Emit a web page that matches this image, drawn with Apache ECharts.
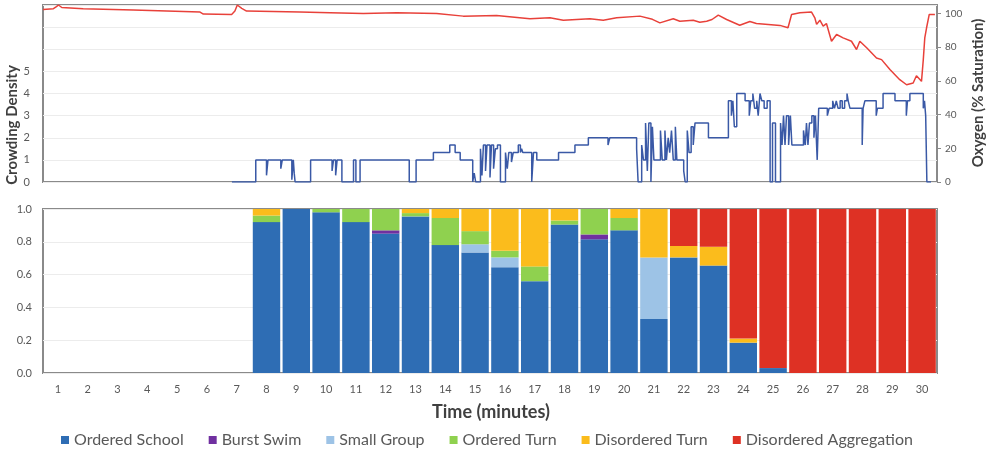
<!DOCTYPE html>
<html>
<head>
<meta charset="utf-8">
<script src="https://cdn.jsdelivr.net/npm/echarts@6/dist/echarts.min.js"></script>
<style>html,body{margin:0;padding:0;background:#fff;}#c{width:989px;height:459px;}</style>
</head>
<body>
<div id="c"></div>
<script>
// ---- Bottom panel: behaviour proportions per minute ----
const minutes = ['1','2','3','4','5','6','7','8','9','10','11','12','13','14','15','16','17','18','19','20','21','22','23','24','25','26','27','28','29','30'];
const orderedSchool = [0,0,0,0,0,0,0,0.92,1.0,0.98,0.92,0.85,0.955,0.78,0.735,0.645,0.56,0.905,0.815,0.87,0.33,0.705,0.655,0.185,0.03,0,0,0,0,0];
const burstSwim     = [0,0,0,0,0,0,0,0,0,0,0,0.02,0,0,0,0,0,0,0.03,0,0,0,0,0,0,0,0,0,0,0];
const smallGroup    = [0,0,0,0,0,0,0,0,0,0,0,0,0,0,0.05,0.06,0,0,0,0,0.375,0,0,0,0,0,0,0,0,0];
const orderedTurn   = [0,0,0,0,0,0,0,0.04,0,0.02,0.08,0.13,0.02,0.165,0.08,0.04,0.09,0.025,0.155,0.075,0,0,0,0,0,0,0,0,0,0];
const disorderedTurn= [0,0,0,0,0,0,0,0.04,0,0,0,0,0.025,0.055,0.135,0.255,0.35,0.07,0,0.055,0.295,0.07,0.115,0.025,0,0,0,0,0,0];
const disorderedAgg = [0,0,0,0,0,0,0,0,0,0,0,0,0,0,0,0,0,0,0,0,0,0.225,0.23,0.79,0.97,1,1,1,1,1];

// ---- Top panel: crowding density (step) ----
const crowdTime = [6.34,7.14,7.50,7.55,7.98,8.03,8.35,8.40,8.43,8.46,8.98,9.70,9.75,9.82,9.87,10.03,10.42,10.50,10.64,12.29,
  12.52,13.10,13.65,13.83,14.00,14.42,14.47,14.52,14.68,14.73,14.78,14.85,14.90,15.00,15.05,15.12,15.18,15.25,15.35,15.52,
  15.58,15.63,15.72,15.78,15.95,16.02,16.06,16.10,16.40,16.46,16.57,17.30,17.85,18.30,18.96,19.02,19.92,19.97,20.09,20.15,
  20.22,20.28,20.33,20.40,20.45,20.50,20.72,20.78,20.87,20.92,20.98,21.03,21.09,21.15,21.22,21.27,21.50,21.55,21.62,21.68,
  21.75,21.82,21.88,22.33,23.00,23.10,23.15,23.20,23.28,23.56,23.70,23.75,23.82,23.88,23.95,24.00,24.06,24.12,24.20,24.30,
  24.40,24.48,24.58,24.75,24.80,24.85,24.90,24.95,25.02,25.08,25.13,25.52,25.58,25.62,25.67,25.72,25.80,25.87,25.92,25.98,
  26.03,26.32,26.38,26.50,26.56,26.62,26.68,26.75,26.82,26.90,26.98,27.02,27.08,27.49,27.52,27.58,27.96,28.00,28.19,28.59,
  28.97,29.01,29.09,29.54,29.58,29.62,29.66,29.80];
const crowdValue = [0,1,0.3,1,0.6,1,0.1,1,0.4,0,1,0.5,1,0.3,1,0,1,0,1,0,
  1,1.33,1.67,1.33,1,0,0.4,0,1.5,0.3,1.67,0.5,1.67,0.2,1.67,0.6,1.5,1.67,0,1.33,
  0.6,1.33,0.9,1.33,1.67,1.33,1.5,1.33,0,1.33,1,1.33,1.67,2,1.67,2,1.5,0,1.67,1,
  2.67,0.5,2.67,0,2.5,1,2.33,1,2.33,1,2,1.33,2.33,1,2.5,1,0.5,0,2.33,1.33,
  2.5,1.67,2.67,2,3.67,3,3.67,2.5,4,3.67,3,3.67,4,3.33,3.67,3,4,3.67,3.33,3.67,
  0,2.67,0,2.67,1.67,3,1.67,3,1.67,3,1.67,2.33,1.67,2.67,1.67,2.67,3,2,3,1,
  3.33,3,3.33,3.67,3.33,3.67,3.33,3.67,3.33,3.67,4,3.67,3.33,1.67,3.33,3.67,3,3.33,4,3.67,
  3,3.67,4,3.33,3.67,3,0,0];

// ---- Top panel: oxygen saturation ----
const oxyTime = [0,0.35,0.45,0.52,0.63,1.35,3.03,5.27,5.38,6.33,6.44,6.52,6.67,6.83,8.62,9.63,10.75,11.87,13.21,14.1,
  15.22,16.34,17.01,17.46,18.35,18.8,19.25,20.03,20.45,20.70,21.15,21.37,21.82,22.04,22.27,22.45,22.66,22.94,23.38,23.72,
  23.94,24.73,25.0,25.12,25.4,25.79,25.9,25.96,26.07,26.18,26.29,26.46,26.63,26.85,27.13,27.30,27.41,27.64,27.97,28.14,
  28.42,28.75,28.98,29.2,29.31,29.48,29.54,29.59,29.65,29.74,29.93];
const oxyValue = [102.4,102.8,104,105,103.5,102.8,102,100.8,99.6,99.4,101.4,105,103,101.4,100.8,100.4,100,100.4,100,98.4,
  98.8,96.8,97.4,96,96.8,96,97.4,98.4,96.5,94.4,96.8,95.4,96,94.8,95.4,96.4,99,96.4,93,95.2,
  94,92.9,91.5,99.4,100.4,100.8,97.4,93.5,96,92.5,94,83.5,87.5,85.5,83.5,78.6,83.5,79.6,73.6,72.6,
  66.7,60.7,57.7,58.7,63,59.7,72.6,85.5,91.5,99.4,99.4];

const leftTicks = [0,1,2,3,4,5];
const rightTicks = [0,20,40,60,80,100];

const FONT = 'Lato, "Open Sans", sans-serif';
const LABEL = '#595959';
const TITLE = '#404040';
const BORDER = '#8a8a8a';
const GRIDLINE = '#ececec';

const chart = echarts.init(document.getElementById('c'), null, {renderer: 'canvas'});
const barSeries = (name, data, color) => ({
  name, type: 'bar', stack: 'b', xAxisIndex: 1, yAxisIndex: 2, data,
  barCategoryGap: '8%', itemStyle: {color}
});

chart.setOption({
  animation: false,
  textStyle: {fontFamily: FONT},
  grid: [
    {left: 43, right: 52, top: 5, height: 177, show: true, borderColor: BORDER, borderWidth: 2, backgroundColor: '#fff'},
    {left: 43, right: 52, top: 209, height: 164, show: true, borderColor: BORDER, borderWidth: 2, backgroundColor: '#fff'}
  ],
  xAxis: [
    {gridIndex: 0, type: 'value', min: 0, max: 30, show: false},
    {gridIndex: 1, type: 'category', data: minutes,
      axisLine: {show: false}, axisTick: {show: false},
      axisLabel: {color: LABEL, fontSize: 11, margin: 11, fontFamily: FONT}}
  ],
  yAxis: [
    {gridIndex: 0, type: 'value', min: 0, max: 8, interval: 1,
      axisLine: {show: false}, axisTick: {show: false},
      splitLine: {lineStyle: {color: GRIDLINE, width: 1}},
      axisLabel: {color: LABEL, fontSize: 11, margin: 13, fontFamily: FONT,
        formatter: v => leftTicks.indexOf(v) >= 0 ? String(v) : ''}},
    {gridIndex: 0, type: 'value', position: 'right', min: 0, max: 105, interval: 20,
      axisLine: {show: false},
      axisTick: {show: true, length: 4, lineStyle: {color: BORDER}},
      splitLine: {show: false},
      axisLabel: {color: LABEL, fontSize: 10, margin: 8, fontFamily: FONT, showMaxLabel: false,
        formatter: v => rightTicks.indexOf(v) >= 0 ? String(v) : ''}},
    {gridIndex: 1, type: 'value', min: 0, max: 1, interval: 0.2,
      axisLine: {show: false}, axisTick: {show: false},
      splitLine: {lineStyle: {color: GRIDLINE, width: 1}},
      axisLabel: {color: LABEL, fontSize: 11, margin: 11, fontFamily: FONT, formatter: v => v.toFixed(1)}}
  ],
  legend: {
    left: 56, top: 427, itemWidth: 8, itemHeight: 8, itemGap: 25, icon: 'rect',
    textStyle: {color: LABEL, fontSize: 16, fontFamily: FONT},
    data: ['Ordered School','Burst Swim','Small Group','Ordered Turn','Disordered Turn','Disordered Aggregation']
  },
  graphic: [
    {type: 'text', x: 12, y: 125, rotation: Math.PI / 2,
      style: {text: 'Crowding Density', fill: TITLE, font: 'bold 15px ' + FONT, textAlign: 'center', textVerticalAlign: 'middle'}},
    {type: 'text', x: 978, y: 93, rotation: Math.PI / 2,
      style: {text: 'Oxygen (% Saturation)', fill: TITLE, font: 'bold 15px ' + FONT, textAlign: 'center', textVerticalAlign: 'middle'}},
    {type: 'text', x: 491, y: 412,
      style: {text: 'Time (minutes)', fill: TITLE, font: 'bold 18px ' + FONT, textAlign: 'center', textVerticalAlign: 'middle'}}
  ],
  series: [
    {name: 'Oxygen', type: 'line', xAxisIndex: 0, yAxisIndex: 1, showSymbol: false, silent: true,
      data: oxyTime.map((t, i) => [t, oxyValue[i]]),
      lineStyle: {color: '#e8413a', width: 1.5}, z: 3},
    {name: 'Crowding', type: 'line', xAxisIndex: 0, yAxisIndex: 0, showSymbol: false, silent: true, step: 'end',
      data: crowdTime.map((t, i) => [t, crowdValue[i]]),
      lineStyle: {color: '#3a59a6', width: 1.5}, z: 3},
    barSeries('Ordered School', orderedSchool, '#2e6db4'),
    barSeries('Burst Swim', burstSwim, '#7030a0'),
    barSeries('Small Group', smallGroup, '#9dc3e6'),
    barSeries('Ordered Turn', orderedTurn, '#8fd14f'),
    barSeries('Disordered Turn', disorderedTurn, '#fbbc1c'),
    barSeries('Disordered Aggregation', disorderedAgg, '#de3124')
  ]
});
</script>
</body>
</html>
